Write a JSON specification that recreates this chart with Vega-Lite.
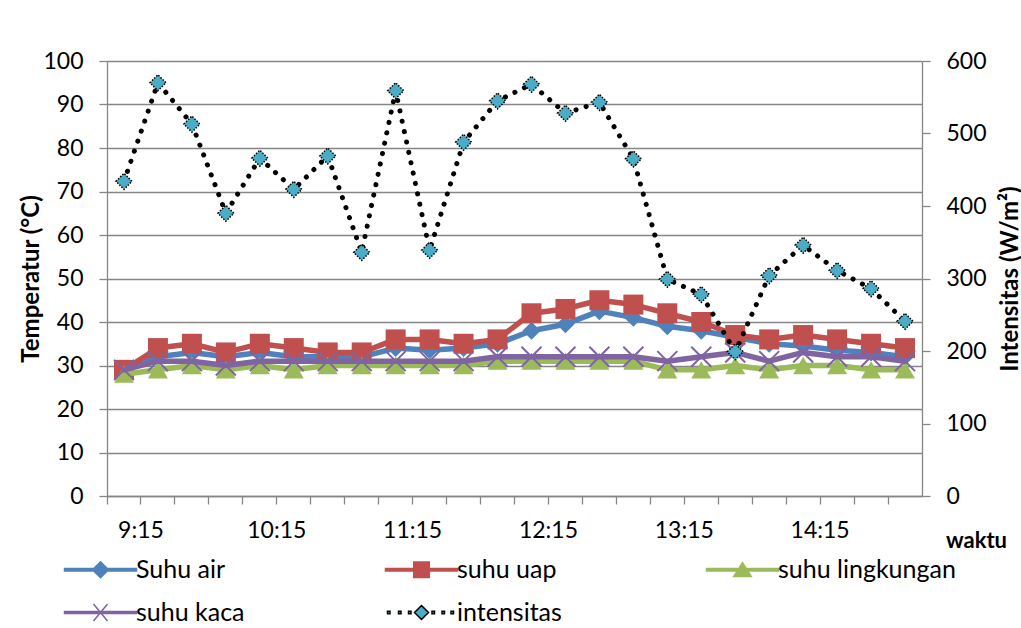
{
  "$schema": "https://vega.github.io/schema/vega-lite/v6.json",
  "width": 815,
  "height": 435,
  "autosize": {"type": "none"},
  "padding": {"left": 107, "top": 61, "right": 99, "bottom": 132},
  "background": "white",
  "config": {
    "font": "Lato",
    "view": {"stroke": null},
    "axis": {
      "domainColor": "#868686",
      "domainWidth": 1.3,
      "tickColor": "#868686",
      "tickWidth": 1.3,
      "tickSize": 8,
      "gridColor": "#868686",
      "gridWidth": 1.3,
      "labelFont": "Lato",
      "labelFontSize": 23,
      "labelColor": "#000000",
      "titleFont": "Lato",
      "titleFontSize": 24,
      "titleFontWeight": "bold",
      "titleColor": "#000000"
    },
    "legend": {
      "orient": "none",
      "legendX": -45,
      "legendY": 496,
      "direction": "horizontal",
      "columns": 3,
      "padding": 0,
      "labelFont": "Lato",
      "labelFontSize": 25,
      "labelColor": "#000000",
      "labelLimit": 400,
      "symbolSize": 400,
      "symbolStrokeWidth": 1.5,
      "symbolOffset": 26,
      "labelOffset": 23,
      "columnPadding": 68,
      "rowPadding": 17,
      "gridAlign": "all"
    }
  },
  "data": {
    "values": [
      {"waktu": "9:15", "air": 29, "uap": 29, "lingkungan": 28, "kaca": 29, "intensitas": 434},
      {"waktu": "9:30", "air": 32, "uap": 34, "lingkungan": 29, "kaca": 31, "intensitas": 570},
      {"waktu": "9:45", "air": 33, "uap": 35, "lingkungan": 30, "kaca": 31, "intensitas": 513},
      {"waktu": "10:00", "air": 32, "uap": 33, "lingkungan": 29, "kaca": 30, "intensitas": 390},
      {"waktu": "10:15", "air": 33, "uap": 35, "lingkungan": 30, "kaca": 31, "intensitas": 466},
      {"waktu": "10:30", "air": 32, "uap": 34, "lingkungan": 29, "kaca": 31, "intensitas": 423},
      {"waktu": "10:45", "air": 32, "uap": 33, "lingkungan": 30, "kaca": 31, "intensitas": 469},
      {"waktu": "11:00", "air": 32, "uap": 33, "lingkungan": 30, "kaca": 31, "intensitas": 336},
      {"waktu": "11:15", "air": 34, "uap": 36, "lingkungan": 30, "kaca": 31, "intensitas": 559},
      {"waktu": "11:30", "air": 33.5, "uap": 36, "lingkungan": 30, "kaca": 31, "intensitas": 339},
      {"waktu": "11:45", "air": 34, "uap": 35, "lingkungan": 30, "kaca": 31, "intensitas": 488},
      {"waktu": "12:00", "air": 35, "uap": 36, "lingkungan": 31, "kaca": 32, "intensitas": 545},
      {"waktu": "12:15", "air": 38, "uap": 42, "lingkungan": 31, "kaca": 32, "intensitas": 568},
      {"waktu": "12:30", "air": 39.5, "uap": 43, "lingkungan": 31, "kaca": 32, "intensitas": 528},
      {"waktu": "12:45", "air": 42.5, "uap": 45, "lingkungan": 31, "kaca": 32, "intensitas": 543},
      {"waktu": "13:00", "air": 41, "uap": 44, "lingkungan": 31, "kaca": 32, "intensitas": 465},
      {"waktu": "13:15", "air": 39, "uap": 42, "lingkungan": 29, "kaca": 31, "intensitas": 299},
      {"waktu": "13:30", "air": 38, "uap": 40, "lingkungan": 29, "kaca": 32, "intensitas": 278},
      {"waktu": "13:45", "air": 36.5, "uap": 37, "lingkungan": 30, "kaca": 33, "intensitas": 199},
      {"waktu": "14:00", "air": 35, "uap": 36, "lingkungan": 29, "kaca": 31, "intensitas": 304},
      {"waktu": "14:15", "air": 34.5, "uap": 37, "lingkungan": 30, "kaca": 33, "intensitas": 346},
      {"waktu": "14:30", "air": 33.5, "uap": 36, "lingkungan": 30, "kaca": 32, "intensitas": 311},
      {"waktu": "14:45", "air": 33, "uap": 35, "lingkungan": 29, "kaca": 32, "intensitas": 286},
      {"waktu": "15:00", "air": 32, "uap": 34, "lingkungan": 29, "kaca": 31, "intensitas": 241}
    ]
  },
  "encoding": {
    "x": {
      "field": "waktu",
      "type": "ordinal",
      "sort": null,
      "scale": {"type": "band", "paddingInner": 0, "paddingOuter": 0},
      "axis": {
        "bandPosition": 0,
        "labelOffset": 17,
        "labelAngle": 0,
        "labelOverlap": false,
        "labelFlush": false,
        "labelPadding": 15,
        "labelExpr": "indexof(['9:15','10:15','11:15','12:15','13:15','14:15'], datum.value) >= 0 ? datum.value : ''",
        "grid": false,
        "title": "waktu",
        "titleFontSize": 22,
        "titleX": 869,
        "titleY": 44,
        "titleAlign": "center",
        "titleBaseline": "middle",
        "titleAngle": 0
      }
    }
  },
  "layer": [
    {
      "layer": [
        {
          "mark": {"type": "line", "strokeWidth": 5.5, "strokeJoin": "round", "strokeCap": "round"},
          "encoding": {
            "y": {
              "field": "air",
              "type": "quantitative",
              "scale": {"domain": [0, 100]},
              "axis": {
                "values": [0, 10, 20, 30, 40, 50, 60, 70, 80, 90, 100],
                "grid": true,
                "labelPadding": 16,
                "title": "Temperatur (°C)",
                "titleX": -76,
                "titleY": 217.5,
                "titleAngle": -90,
                "titleAlign": "center",
                "titleBaseline": "middle"
              }
            },
            "stroke": {
              "datum": "Suhu air",
              "type": "nominal",
              "scale": {
                "domain": ["Suhu air", "suhu uap", "suhu lingkungan", "suhu kaca", "intensitas"],
                "range": ["#4F81BD", "#C0504D", "#9BBB59", "#8064A2", "#000000"]
              },
              "legend": {
                "title": null,
                "encode": {
                  "symbols": {
                    "update": {
                      "shape": {"signal": "datum.value === 'Suhu air' ? 'M-3.6,-0.13H3.6V0.13H-3.6Z M0,-0.8L0.8,0L0,0.8L-0.8,0Z' : datum.value === 'suhu uap' ? 'M-3.6,-0.13H3.6V0.13H-3.6Z M-0.78,-0.78H0.78V0.78H-0.78Z' : datum.value === 'suhu lingkungan' ? 'M-3.6,-0.13H3.6V0.13H-3.6Z M0,-0.72L0.88,0.68H-0.88Z' : datum.value === 'suhu kaca' ? 'M-3.6,-0.1H3.6V0.1H-3.6Z M-0.7,-0.85L0.7,0.85M-0.7,0.85L0.7,-0.85' : 'M-3.4,-0.12H-3.15V0.12H-3.4Z M-2.3,-0.12H-2.05V0.12H-2.3Z M-1.3,-0.12H-1.05V0.12H-1.3Z M1.05,-0.12H1.3V0.12H1.05Z M2.05,-0.12H2.3V0.12H2.05Z M2.95,-0.12H3.2V0.12H2.95Z M0,-0.7L0.7,0L0,0.7L-0.7,0Z'"},
                      "size": {"value": 400},
                      "strokeWidth": {"value": 1.5},
                      "opacity": {"value": 1}
                    }
                  }
                }
              }
            }
          }
        },
        {
          "mark": {"type": "point", "shape": "diamond", "size": 324, "filled": true, "stroke": "#4F81BD", "strokeWidth": 0, "opacity": 1},
          "encoding": {
            "y": {"field": "air", "type": "quantitative"},
            "fill": {
              "datum": "Suhu air",
              "type": "nominal",
              "scale": {
                "domain": ["Suhu air", "suhu uap", "suhu lingkungan", "suhu kaca", "intensitas"],
                "range": ["#4F81BD", "#C0504D", "#9BBB59", "#8064A2", "#4BACC6"]
              },
              "legend": {"title": null}
            }
          }
        },
        {
          "mark": {"type": "line", "strokeWidth": 5.5, "strokeJoin": "round", "strokeCap": "round"},
          "encoding": {
            "y": {"field": "uap", "type": "quantitative"},
            "stroke": {"datum": "suhu uap", "type": "nominal"}
          }
        },
        {
          "mark": {"type": "point", "shape": "square", "size": 400, "filled": true, "strokeWidth": 0, "opacity": 1},
          "encoding": {
            "y": {"field": "uap", "type": "quantitative"},
            "fill": {"datum": "suhu uap", "type": "nominal"}
          }
        },
        {
          "mark": {"type": "line", "strokeWidth": 5.5, "strokeJoin": "round", "strokeCap": "round"},
          "encoding": {
            "y": {"field": "lingkungan", "type": "quantitative"},
            "stroke": {"datum": "suhu lingkungan", "type": "nominal"}
          }
        },
        {
          "mark": {"type": "point", "shape": "triangle-up", "size": 400, "filled": true, "strokeWidth": 0, "opacity": 1},
          "encoding": {
            "y": {"field": "lingkungan", "type": "quantitative"},
            "fill": {"datum": "suhu lingkungan", "type": "nominal"}
          }
        },
        {
          "mark": {"type": "line", "strokeWidth": 5.5, "strokeJoin": "round", "strokeCap": "round"},
          "encoding": {
            "y": {"field": "kaca", "type": "quantitative"},
            "stroke": {"datum": "suhu kaca", "type": "nominal"}
          }
        },
        {
          "mark": {"type": "point", "shape": "M-1,-1L1,1M-1,1L1,-1", "size": 400, "filled": false, "strokeWidth": 2, "opacity": 1},
          "encoding": {
            "y": {"field": "kaca", "type": "quantitative"},
            "stroke": {"datum": "suhu kaca", "type": "nominal"}
          }
        }
      ]
    },
    {
      "layer": [
        {
          "mark": {"type": "line", "strokeWidth": 5, "strokeDash": [0.1, 10.5], "strokeCap": "round"},
          "encoding": {
            "y": {
              "field": "intensitas",
              "type": "quantitative",
              "scale": {"domain": [0, 600]},
              "axis": {
                "orient": "right",
                "values": [0, 100, 200, 300, 400, 500, 600],
                "grid": false,
                "labelPadding": 16,
                "title": "Intensitas (W/m²)",
                "titleX": 88,
                "titleY": 217.5,
                "titleAngle": -90,
                "titleAlign": "center",
                "titleBaseline": "middle"
              }
            },
            "stroke": {"datum": "intensitas", "type": "nominal"}
          }
        },
        {
          "mark": {"type": "point", "shape": "diamond", "size": 256, "filled": true, "stroke": "#000000", "strokeWidth": 1.5, "strokeDash": [1.5, 1.5], "opacity": 1},
          "encoding": {
            "y": {"field": "intensitas", "type": "quantitative"},
            "fill": {"datum": "intensitas", "type": "nominal"}
          }
        }
      ]
    }
  ],
  "resolve": {"scale": {"y": "independent"}}
}
